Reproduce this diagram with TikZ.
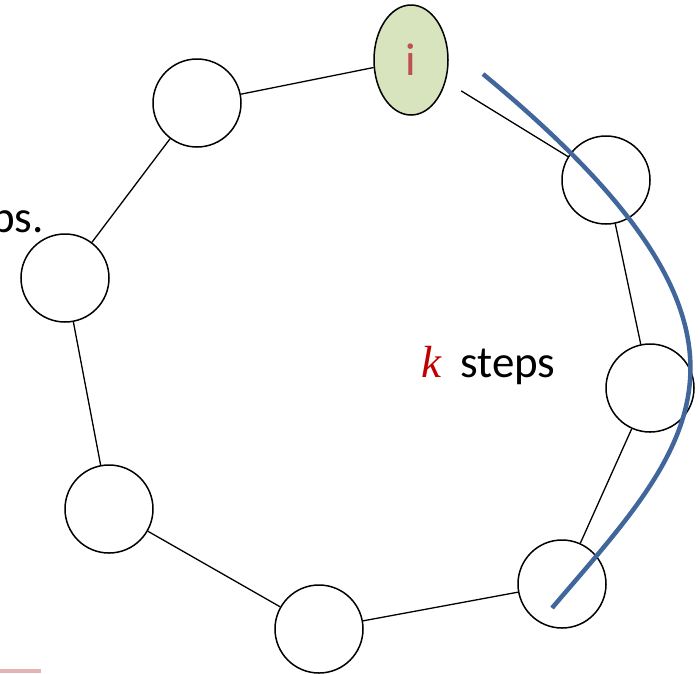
\documentclass[tikz,border=0pt]{standalone}
\usepackage{fontspec}
\setmainfont{Carlito}
\newfontfamily\kfont{Liberation Serif}
\usetikzlibrary{shapes.geometric}
\definecolor{ringblue}{HTML}{41669C}
\definecolor{ivert}{HTML}{D7E4BD}
\definecolor{ired}{HTML}{C0504D}
\definecolor{kred}{HTML}{C00000}
\definecolor{pinkbar}{HTML}{E6B3B6}
\begin{document}
\begin{tikzpicture}[x=1pt,y=-1pt,
  vert/.style={circle,draw,line width=1.5pt,minimum size=88pt,inner sep=0pt},
  startvert/.style={ellipse,draw,line width=1.5pt,fill=ivert,minimum width=74pt,minimum height=110pt,inner sep=0pt},
  edge/.style={line width=1.3pt},
  lbl/.style={inner sep=0pt,font=\fontsize{45}{54}\selectfont}]
\useasboundingbox (0,0) rectangle (700,673);
% vertices of the ring
\node[startvert] (vi) at (411,60) {\fontsize{46}{52}\selectfont\color{ired}i};
\node[vert] (va) at (197,103) {};
\node[vert] (vb) at (65,278) {};
\node[vert] (vc) at (109,509) {};
\node[vert] (vd) at (319,629) {};
\node[vert] (ve) at (562,584) {};
\node[vert] (vf) at (650,388) {};
\node[vert] (vg) at (606,180) {};
% ring edges
\draw[edge] (vi) -- (va);
\draw[edge] (va) -- (vb);
\draw[edge] (vb) -- (vc);
\draw[edge] (vc) -- (vd);
\draw[edge] (vd) -- (ve);
\draw[edge] (ve) -- (vf);
\draw[edge] (vf) -- (vg);
\draw[edge,shorten <=18pt] (vi) -- (vg);
% arc marking the k steps
\coordinate (arcs) at (483,74);
\coordinate (arce) at (552,608);
\draw[ringblue,line width=4.5pt] (arcs) .. controls (805,340) and (690,446) .. (arce);
% labels
\node[lbl,anchor=base west] (ksteps) at (421,377) {\textcolor{kred}{\kfont\itshape k} \hspace{9pt}steps};
\node[lbl,anchor=base east] (ps) at (44,232) {ps.};
% partial bar at the lower left
\fill[pinkbar] (0,669) rectangle (41,673);
\end{tikzpicture}
\end{document}
